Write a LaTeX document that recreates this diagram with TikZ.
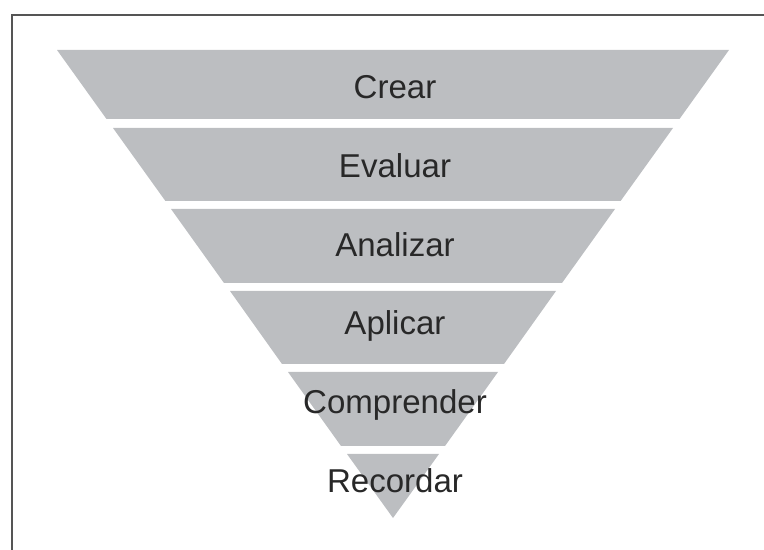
\documentclass[tikz,border=0pt]{standalone}
\usepackage{fontspec}
\setmainfont{Liberation Sans}
\definecolor{levelgray}{RGB}{188,190,193}
\definecolor{textgray}{RGB}{40,40,40}
\definecolor{framegray}{RGB}{85,85,85}
\begin{document}
\begin{tikzpicture}[x=0.025cm,y=-0.025cm]

\useasboundingbox (0,0) rectangle (764,550);

\tikzset{level/.style={fill=levelgray}}
\tikzset{lbl/.style={anchor=base,text=textgray,font=\fontsize{23.5pt}{28pt}\selectfont}}
\tikzset{frame/.style={line width=1.4pt,color=framegray}}

\draw[frame] (12,552) -- (12,15) -- (766,15);

\fill[level] (57,50) -- (729,50) -- (679.5,119) -- (106.5,119) -- cycle;
\fill[level] (113,128) -- (673,128) -- (620.6,201) -- (165.4,201) -- cycle;
\fill[level] (171,209) -- (615,209) -- (562,283) -- (224,283) -- cycle;
\fill[level] (230,291) -- (556,291) -- (504,364) -- (282,364) -- cycle;
\fill[level] (288,372) -- (498,372) -- (445,446) -- (341,446) -- cycle;
\fill[level] (347,454) -- (439,454) -- (393,518) -- cycle;

\node[lbl] (crear) at (395,99) {Crear};
\node[lbl] (evaluar) at (395,178) {Evaluar};
\node[lbl] (analizar) at (395,257) {Analizar};
\node[lbl] (aplicar) at (395,335) {Aplicar};
\node[lbl] (comprender) at (395,414) {Comprender};
\node[lbl] (recordar) at (395,492) {Recordar};

\end{tikzpicture}
\end{document}
